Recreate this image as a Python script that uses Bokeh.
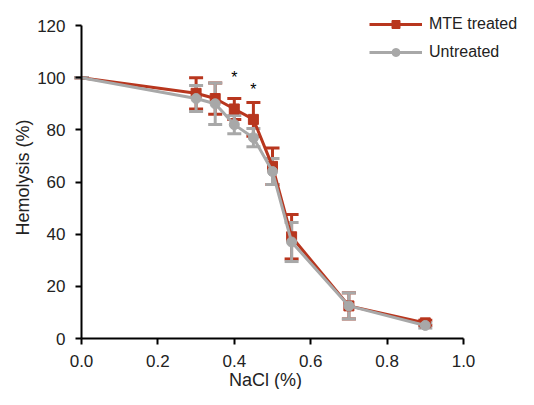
from bokeh.plotting import figure
from bokeh.models import ColumnDataSource, Whisker, TeeHead, Legend, LegendItem, FixedTicker, NumeralTickFormatter, Range1d
from bokeh.core.properties import value
from bokeh.embed import file_html
from bokeh.resources import INLINE
import math

nacl = [0.0, 0.3, 0.35, 0.4, 0.45, 0.5, 0.55, 0.7, 0.9]
mte = [100, 94, 92, 88, 84, 66, 39, 12.5, 6]
mte_err = [0, 6, 6, 4, 6.5, 7, 8.5, 5, 1]
untreated = [100, 92, 90, 82, 77, 64, 37, 12.5, 5]
untreated_err = [0, 5, 8, 3.5, 3.5, 5, 7.5, 5, 1]
star_x = [0.4, 0.45]
star_y = [100, 95.5]
x_ticks = [0.0, 0.2, 0.4, 0.6, 0.8, 1.0]
y_ticks = [0, 20, 40, 60, 80, 100, 120]
x_title = "NaCl (%)"
y_title = "Hemolysis (%)"

RED = "#b8361e"
GRAY = "#a8a8a8"
FONT = "Liberation Sans"

W, H = 518, 389
X0, Y0 = 81, 338      # canvas pixel of the data origin
XPX = 382.0           # pixels per x unit
YPX = 313.0 / 120.0   # pixels per y unit
p = figure(width=W, height=H, output_backend="svg", toolbar_location=None,
           x_range=Range1d(-X0 / XPX, (W - X0) / XPX),
           y_range=Range1d(-(H - Y0) / YPX, Y0 / YPX),
           min_border=0)
p.outline_line_color = None
p.grid.visible = False
p.background_fill_color = None

def src(y, e):
    return ColumnDataSource(dict(x=nacl, y=y, lo=[a - b for a, b in zip(y, e)], hi=[a + b for a, b in zip(y, e)]))

s_mte = src(mte, mte_err)
s_un = src(untreated, untreated_err)
s_mte_m = ColumnDataSource(dict(x=nacl[1:], y=mte[1:]))
s_un_m = ColumnDataSource(dict(x=nacl[1:], y=untreated[1:]))

for s, c in ((s_mte, RED), (s_un, GRAY)):
    w = Whisker(source=s, base="x", lower="lo", upper="hi", line_color=c, line_width=3,
                upper_head=TeeHead(size=14, line_color=c, line_width=3),
                lower_head=TeeHead(size=14, line_color=c, line_width=3))
    p.add_layout(w)

l1 = p.line("x", "y", source=s_mte, line_color=RED, line_width=3)
m1 = p.scatter("x", "y", source=s_mte_m, marker="square", size=10, fill_color=RED, line_color=RED)
l2 = p.line("x", "y", source=s_un, line_color=GRAY, line_width=3)
m2 = p.scatter("x", "y", source=s_un_m, marker="circle", size=10, fill_color=GRAY, line_color=GRAY)

p.text(x=star_x, y=star_y, text=["*", "*"], text_align="center", text_baseline="middle",
       text_font=value(FONT), text_font_size="16px", text_color="black")

for ax in (p.xaxis[0], p.yaxis[0]):
    ax.fixed_location = 0
    ax.axis_line_width = 2
    ax.axis_line_color = "black"
    ax.major_tick_line_width = 2
    ax.major_tick_out = 6
    ax.major_tick_in = 0
    ax.minor_tick_line_color = None
    ax.major_label_text_font = FONT
    ax.major_label_text_font_size = "17px"
    ax.major_label_text_color = "#222222"

p.xaxis.ticker = FixedTicker(ticks=x_ticks)
p.yaxis.ticker = FixedTicker(ticks=y_ticks)
p.xaxis.bounds = (0, 1.0)
p.yaxis.bounds = (0, 120)
p.xaxis.formatter = NumeralTickFormatter(format="0.0")
p.xaxis.major_label_standoff = 10
p.yaxis.major_label_standoff = 10

# axis titles placed at screen-derived data positions
p.text(x=[(265 - X0) / XPX], y=[(Y0 - 379) / YPX], text=[x_title], text_align="center",
       text_baseline="middle", text_font=value(FONT), text_font_size="18px", text_color="#222222")
p.text(x=[(22 - X0) / XPX], y=[(Y0 - 177) / YPX], text=[y_title], text_align="center",
       text_baseline="middle", angle=math.pi / 2, text_font=value(FONT), text_font_size="18px",
       text_color="#222222")

legend = Legend(items=[LegendItem(label="MTE treated", renderers=[l1, m1]),
                       LegendItem(label="Untreated", renderers=[l2, m2])],
                location=(369, 327), glyph_width=53, glyph_height=20, label_height=20,
                spacing=8, padding=0, margin=0, label_standoff=7,
                label_text_font=FONT, label_text_font_size="16px", label_text_color="#222222",
                border_line_color=None, background_fill_alpha=0)
p.add_layout(legend, "center")

open("out.html", "w").write(file_html(p, INLINE))
